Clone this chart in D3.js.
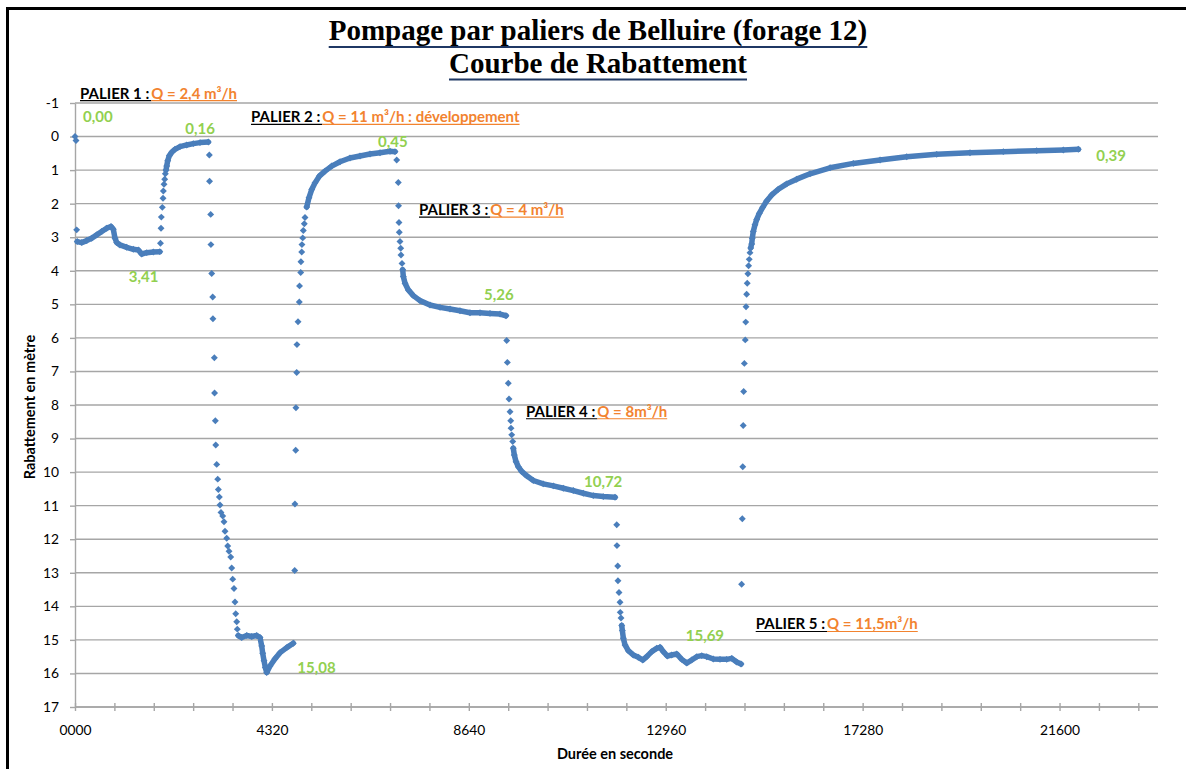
<!DOCTYPE html>
<html>
<head>
<meta charset="utf-8">
<script src="https://cdn.jsdelivr.net/npm/d3@7"></script>
<style>
  html, body { margin: 0; padding: 0; background: #fff; }
  svg { display: block; font-family: Lato, "Open Sans", sans-serif; }
</style>
</head>
<body>
<svg id="chart" width="1186" height="769"></svg>
<script>
/* ── readings: [durée (s), rabattement (m)] ──
   "Dots" = isolated readings, "Trace" = readings so close they merge into a line */
const p1Dots  = [[0,0],[22,0.12],[37,2.78]];
const p1Trace = [[50,3.13],[147,3.16],[257,3.10],[366,3.03],[476,2.93],[586,2.83],[695,2.73],[790,2.68],[840,2.76],[878,3.03],[915,3.16],[987,3.23],[1134,3.30],[1279,3.36],[1389,3.38],[1463,3.50],[1573,3.46],[1718,3.44],[1860,3.43]];
const r1Dots  = [[1875,3.18],[1887,2.73],[1894,2.40],[1916,2.11],[1931,1.84],[1938,1.62],[1953,1.42],[1968,1.27],[1982,1.11]];
const r1Trace = [[1997,1.00],[2012,0.88],[2034,0.72],[2070,0.57],[2122,0.47],[2194,0.38],[2304,0.30],[2451,0.25],[2596,0.21],[2743,0.18],[2925,0.16]];

const p2Dots  = [[2947,0.55],[2952,1.33],[2977,2.32],[2982,3.22],[2999,4.08],[3021,4.78],[3026,5.43],[3057,6.59],[3062,7.64],[3079,8.47],[3088,9.19],[3109,9.77],[3131,10.21],[3145,10.52],[3167,10.74],[3181,10.98],[3203,11.20],[3241,11.31],[3269,11.48],[3291,11.76],[3328,11.97],[3350,12.20],[3379,12.36],[3416,12.53],[3438,12.86],[3460,13.19],[3488,13.47],[3510,13.87],[3526,14.22],[3548,14.46],[3561,14.68]];
const p2Trace = [[3583,14.87],[3657,14.93],[3767,14.87],[3877,14.90],[3987,14.87],[4059,14.93],[4096,15.18],[4118,15.40],[4147,15.62],[4175,15.82],[4206,15.97],[4278,15.78],[4388,15.56],[4498,15.38],[4645,15.23],[4789,15.10]];
const r2Dots  = [[4820,12.93],[4825,10.95],[4842,9.35],[4847,8.08],[4864,7.03],[4869,6.20],[4893,5.52],[4921,4.93],[4926,4.45],[4952,4.05],[4957,3.73],[4974,3.44],[4979,3.22],[4996,3.02],[5009,2.80],[5031,2.60],[5046,2.41]];
const r2Trace = [[5083,2.10],[5134,1.82],[5193,1.58],[5266,1.38],[5360,1.18],[5485,1.03],[5632,0.88],[5814,0.75],[6033,0.64],[6253,0.58],[6472,0.52],[6692,0.48],[6911,0.44],[7021,0.45]];

const p3Dots  = [[7058,0.70],[7093,1.37],[7098,2.06],[7108,2.56],[7115,2.85],[7130,3.13],[7146,3.33],[7152,3.53],[7174,3.78]];
const p3Trace = [[7190,3.97],[7203,4.17],[7240,4.37],[7313,4.57],[7422,4.74],[7569,4.89],[7788,5.02],[8008,5.09],[8227,5.14],[8447,5.19],[8666,5.25],[8886,5.25],[9105,5.27],[9325,5.29],[9456,5.34]];

const p4Dots  = [[9471,6.08],[9485,6.73],[9506,7.35],[9522,7.82],[9544,8.20],[9559,8.47],[9566,8.69],[9581,8.89],[9603,9.09]];
const p4Trace = [[9616,9.29],[9638,9.49],[9676,9.69],[9726,9.84],[9800,9.98],[9910,10.11],[10055,10.25],[10274,10.35],[10494,10.41],[10713,10.48],[10933,10.55],[11152,10.63],[11372,10.70],[11591,10.73],[11847,10.75]];

const p5Dots  = [[11885,11.57],[11890,12.19],[11907,12.80],[11912,13.24],[11935,13.59],[11957,13.88],[11962,14.18],[11979,14.35]];
const p5Trace = [[11995,14.57],[12008,14.72],[12030,14.95],[12067,15.15],[12139,15.32],[12249,15.45],[12359,15.52],[12455,15.60],[12543,15.50],[12653,15.35],[12762,15.25],[12835,15.22],[12907,15.35],[12995,15.48],[13091,15.45],[13201,15.42],[13311,15.58],[13421,15.69],[13530,15.60],[13640,15.50],[13750,15.47],[13860,15.50],[14004,15.57],[14151,15.58],[14298,15.58],[14408,15.55],[14517,15.66],[14612,15.72]];
const r5Dots  = [[14625,13.34],[14640,11.39],[14650,9.84],[14660,8.61],[14670,7.60],[14685,6.76],[14705,6.06],[14715,5.53],[14722,5.07],[14735,4.70],[14748,4.37],[14763,4.09],[14778,3.85],[14792,3.66],[14809,3.46]];
const r5Trace = [[14824,3.32],[14846,3.20],[14859,3.03],[14881,2.83],[14918,2.63],[14956,2.47],[15013,2.29],[15088,2.11],[15175,1.92],[15285,1.74],[15430,1.57],[15614,1.41],[15834,1.27],[16126,1.11],[16565,0.93],[17076,0.80],[17662,0.70],[18247,0.60],[18905,0.53],[19636,0.48],[20367,0.45],[21099,0.42],[21683,0.40],[22012,0.38]];

const traces = [p1Trace, r1Trace, p2Trace, r2Trace, p3Trace, p4Trace, p5Trace, r5Trace];
const dots   = [p1Dots, r1Dots, p2Dots, r2Dots, p3Dots, p4Dots, p5Dots, r5Dots];

// green value labels, tied to a reading
const valueLabels = [
  { text: "0,00",  at: [0, 0] },
  { text: "0,16",  at: [2925, 0.16] },
  { text: "3,41",  at: [1860, 3.43] },
  { text: "0,45",  at: [7021, 0.45] },
  { text: "5,26",  at: [9456, 5.34] },
  { text: "10,72", at: [11847, 10.75] },
  { text: "15,08", at: [4789, 15.10] },
  { text: "15,69", at: [13421, 15.69] },
  { text: "0,39",  at: [22012, 0.38] }
];
const labelOffsets = [[8,-15],[-23,-8],[-31,30],[-17,-5],[-22,-16],[-31,-10],[4,30],[-1,-22],[18,12]];

// step annotations
const paliers = [
  { name: "PALIER 1 :", debit: "Q = 2,4 m³/h" },
  { name: "PALIER 2 :", debit: "Q = 11 m³/h : développement" },
  { name: "PALIER 3 :", debit: "Q = 4 m³/h" },
  { name: "PALIER 4 :", debit: "Q = 8m³/h" },
  { name: "PALIER 5 :", debit: "Q = 11,5m³/h" }
];
const palierAnchors = [[110,-1.13],[3861,-0.42],[7547,2.34],[9895,8.35],[14934,14.69]];

const yTicks  = d3.range(-1, 18);
const xMajor  = [0, 4320, 8640, 12960, 17280, 21600];
const xTicks  = d3.range(0, 23329, 864);

const title1 = "Pompage par paliers de Belluire (forage 12)";
const title2 = "Courbe de Rabattement";
const xTitle = "Durée en seconde";
const yTitle = "Rabattement en mètre";

/* ── chart ── */
const svg = d3.select("#chart");
const x = d3.scaleLinear().domain([0, 23760]).range([75, 1158]);
const y = d3.scaleLinear().domain([-1, 17]).range([103, 707]);

const GRID = "#a6a6a6", BLUE = "#4a7ebb", GREEN = "#92d050", ORANGE = "#f2832f";

// outer frame
svg.append("rect")
  .attr("x", 7.5).attr("y", 8.5).attr("width", 1300).attr("height", 900)
  .attr("fill", "none").attr("stroke", "#000").attr("stroke-width", 3);

// titles
const tg = svg.append("g").attr("font-family", "'Liberation Serif', 'Times New Roman', serif")
  .attr("font-weight", "bold").attr("font-size", 29).attr("text-anchor", "middle");
[[title1, 40], [title2, 72.5]].forEach(([t, by]) => {
  const el = tg.append("text").attr("x", 598).attr("y", by).attr("fill", "#000").text(t);
  const w = el.node().getComputedTextLength();
  tg.append("line").attr("x1", 598 - w/2).attr("x2", 598 + w/2)
    .attr("y1", by + 7).attr("y2", by + 7)
    .attr("stroke", "#1f3864").attr("stroke-width", 2.2);
});

// horizontal gridlines
svg.append("g").selectAll("line").data(yTicks).join("line")
  .attr("x1", 75).attr("x2", 1158)
  .attr("y1", d => y(d)).attr("y2", d => y(d))
  .attr("stroke", GRID).attr("stroke-width", 1.4);

// y axis
const gy = svg.append("g").attr("transform", "translate(75,0)")
  .call(d3.axisLeft(y).tickValues(yTicks).tickFormat(d => String(d)).tickSize(5).tickSizeOuter(0).tickPadding(11));
gy.select(".domain").attr("stroke", GRID).attr("stroke-width", 1.4);
gy.selectAll(".tick line").attr("stroke", GRID).attr("stroke-width", 1.4);
gy.selectAll(".tick text").attr("font-family", "Lato, sans-serif").attr("font-size", 13.8).attr("fill", "#000");

// x axis
const gx = svg.append("g").attr("transform", `translate(0,${y(17)})`)
  .call(d3.axisBottom(x).tickValues(xTicks)
    .tickFormat(d => d === 0 ? "0000" : (xMajor.includes(d) ? String(d) : ""))
    .tickSizeOuter(0));
gx.select(".domain").attr("stroke", GRID).attr("stroke-width", 1.4)
  .attr("d", `M${x(0)},0H${x(23760)}`);
gx.selectAll(".tick line").attr("y1", -4).attr("y2", 4).attr("stroke", GRID).attr("stroke-width", 1.4);
gx.selectAll(".tick text").attr("y", 23).attr("dy", "0.35em")
  .attr("font-family", "Lato, sans-serif").attr("font-size", 13.8).attr("fill", "#000");

// axis titles
svg.append("text").attr("x", 615).attr("y", 759).attr("text-anchor", "middle")
  .attr("font-weight", "bold").attr("font-size", 14.5).text(xTitle);
svg.append("text").attr("transform", "translate(35,407) rotate(-90)").attr("text-anchor", "middle")
  .attr("font-weight", "bold").attr("font-size", 14.5).text(yTitle);

// readings: merged stretches
const line = d3.line().x(d => x(d[0])).y(d => y(d[1]));
svg.append("g").selectAll("path").data(traces).join("path")
  .attr("d", line).attr("fill", "none").attr("stroke", BLUE)
  .attr("stroke-width", 5.5).attr("stroke-linejoin", "round").attr("stroke-linecap", "round");

// readings: markers (diamonds)
const marker = d3.symbol().type(d3.symbolSquare).size(24);
svg.append("g").selectAll("path").data([...dots.flat(), ...traces.flat()]).join("path")
  .attr("d", marker)
  .attr("transform", d => `translate(${x(d[0])},${y(d[1])}) rotate(45)`)
  .attr("fill", BLUE);

// green value labels
svg.append("g").selectAll("text").data(valueLabels).join("text")
  .attr("x", (d, i) => x(d.at[0]) + labelOffsets[i][0])
  .attr("y", (d, i) => y(d.at[1]) + labelOffsets[i][1])
  .attr("font-weight", "bold").attr("font-size", 15).attr("fill", GREEN)
  .text(d => d.text);

// palier annotations
const pg = svg.append("g").attr("font-weight", "bold").attr("font-size", 15);
paliers.forEach((p, i) => {
  const px = x(palierAnchors[i][0]), py = y(palierAnchors[i][1]);
  const a = pg.append("text").attr("x", px).attr("y", py).attr("fill", "#000").text(p.name);
  const wa = a.node().getComputedTextLength() + 2;
  const b = pg.append("text").attr("x", px + wa).attr("y", py).attr("fill", ORANGE).text(p.debit);
  const wb = b.node().getComputedTextLength();
  pg.append("line").attr("x1", px).attr("x2", px + wa).attr("y1", py + 2).attr("y2", py + 2)
    .attr("stroke", "#000").attr("stroke-width", 1.2);
  pg.append("line").attr("x1", px + wa).attr("x2", px + wa + wb).attr("y1", py + 2).attr("y2", py + 2)
    .attr("stroke", ORANGE).attr("stroke-width", 1.2);
});
</script>
</body>
</html>
